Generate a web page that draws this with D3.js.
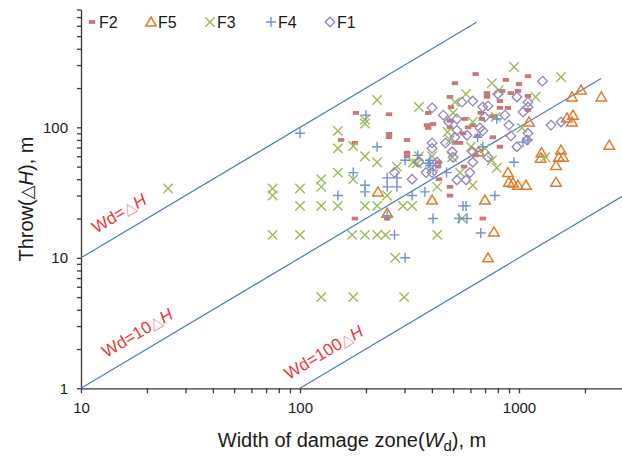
<!DOCTYPE html>
<html>
<head>
<meta charset="utf-8">
<script src="https://cdn.jsdelivr.net/npm/d3@7.9.0/dist/d3.min.js"></script>
<style>
  body { margin: 0; background: #fff; }
  svg { font-family: "Liberation Sans", Arial, sans-serif; }
</style>
</head>
<body>
<svg id="chart" width="622" height="456"></svg>
<script>
// series data: [width of damage zone Wd (m), throw dH (m)]
const f2 = [[634,256],[510,218],[871,231],[1000,215],[1099,247],[714,183],[714,171],[836,190],[918,183],[989,190],
  [1099,174],[484,171],[180,129],[255,126],[385,129],[489,143],[818,159],[890,141],[1099,136],[669,129],[380,104],
  [385,99],[405,106],[484,112],[484,100],[585,100],[676,116],[760,122],[255,89],[255,84],[308,80],[154,80],[178,76],
  [510,76],[818,71],[308,64],[308,60],[427,54],[427,50],[561,50],[431,40],[484,35],[484,30],[555,90],[647,86],
  [615,104],[567,116],[178,20],[250,20],[683,20],[634,61],[538,76],[818,141],[760,84]];
const f5 = [[227,32],[401,27.7],[250,22],[699,27.7],[768,15.8],[722,10],[654,65],[1111,110],[890,45],[899,38],
  [938,37.5],[989,36],[1076,36],[1267,64],[1255,58],[1555,67],[1520,59],[1590,59],[1475,51],[1475,38],[1745,171],
  [1920,193],[2375,171],[1656,118],[1764,124],[1745,110],[2583,73]];
const f3 = [[25,34],[75,34],[75,30],[100,34],[75,15],[100,15],[100,25],[125,40],[125,35],[125,25],[125,5],[149,94],
  [149,69],[149,45],[149,25],[175,72],[175,40],[175,5],[198,60],[198,25],[198,114],[198,107],[225,162],[349,143],
  [225,54],[277,50],[328,54],[349,60],[401,60],[250,30],[225,25],[295,25],[325,25],[423,35],[299,5],[173,15],[198,15],
  [225,15],[246,15],[423,15],[272,10],[549,20],[950,290],[1555,243],[1190,171],[752,218],[573,180],[510,156],[500,129],
  [615,110],[784,120],[809,193],[472,92],[484,80],[603,71],[699,69],[752,56],[792,49],[495,59],[342,53],[538,45],
  [615,36],[1320,59],[1032,99]];
const f4 = [[100,90],[200,124],[175,45],[149,30],[198,36],[198,32],[225,71],[302,56],[270,15],[302,10],[405,20],
  [532,20],[579,20],[555,25],[573,25],[669,15.5],[345,61],[392,56],[392,51],[405,47],[250,41],[250,35],[277,41],
  [277,35],[325,30],[372,32],[250,21],[467,45],[948,54],[776,30],[683,71],[792,116],[647,84],[1043,77],[1099,80],[385,53]];
const f1 = [[1280,226],[401,141],[549,156],[615,159],[683,143],[722,146],[800,180],[978,171],[1099,156],[1099,143],
  [451,124],[521,116],[477,110],[699,120],[862,124],[1043,131],[899,104],[521,95],[579,87],[663,99],[683,94],[462,76],
  [401,76],[401,69],[510,84],[495,65],[500,59],[615,65],[722,59],[918,86],[978,71],[1099,90],[1088,80],[1400,104],
  [1555,110],[615,54],[597,45],[521,39.5],[573,39.5],[423,54],[376,45],[401,45],[349,54],[325,40],[270,45]];

const seriesNames = ['F2', 'F5', 'F3', 'F4', 'F1'];
const seriesData = [f2, f5, f3, f4, f1];

// reference lines Wd = k * dH, drawn between two Wd values
const refK = [1, 10, 100];
const refFrom = [10, 10, 100];
const refTo = [640, 2370, 3000];
const refCoef = ['', '10', '100'];

const xMajor = [10, 100, 1000];
const yMajor = [1, 10, 100];

// ---- styles ----
const markers = {
  F2: { color: '#c9787a' },
  F5: { color: '#e07b2c', path: 'M0,-5L5.3,4L-5.3,4Z', width: 1.5 },
  F3: { color: '#9bbb59', path: 'M-4.7,-4.7L4.7,4.7M-4.7,4.7L4.7,-4.7', width: 1.4 },
  F4: { color: '#6f93cc', path: 'M-5,0H5M0,-5V5', width: 1.4 },
  F1: { color: '#9383b8', path: 'M0,-4.8L4.8,0L0,4.8L-4.8,0Z', width: 1.3 }
};
const axisColor = '#3d3535';
const lineColor = '#4a7ebb';
const labelRed = '#e8383d';

const svg = d3.select('#chart');

const x = d3.scaleLog().domain([10, 3000]).range([81, 623.5]);
const y = d3.scaleLog().domain([1, 800]).range([388.3, 9.5]);

// axes
const xAxis = svg.append('g')
  .attr('transform', `translate(0,${y(1)})`)
  .call(d3.axisBottom(x).tickValues(x.ticks()).tickSize(5).tickSizeOuter(0).tickPadding(9)
    .tickFormat(d => xMajor.includes(d) ? d : ''));
const yAxis = svg.append('g')
  .attr('transform', `translate(${x(10)},0)`)
  .call(d3.axisLeft(y).tickValues(y.ticks()).tickSize(4).tickSizeOuter(0).tickPadding(9)
    .tickFormat(d => yMajor.includes(d) ? d : ''));
[xAxis, yAxis].forEach(g => {
  g.selectAll('path, line').attr('stroke', axisColor).attr('stroke-width', 1.3);
  g.selectAll('text').attr('fill', '#1a1a1a').style('font-size', '15px')
    .style('font-family', '"Liberation Sans", Arial, sans-serif');
});

// reference lines
const angle = Math.atan2(y(10) - y(1), x(100) - x(10)) * 180 / Math.PI;
const labelAt = [16.5, 20, 142];
refK.forEach((k, i) => {
  svg.append('path')
    .attr('d', d3.line()([[x(refFrom[i]), y(refFrom[i] / k)], [x(refTo[i]), y(refTo[i] / k)]]))
    .attr('stroke', lineColor).attr('stroke-width', 1.2).attr('fill', 'none');
  const t = svg.append('text')
    .attr('transform', `translate(${x(labelAt[i])},${y(labelAt[i] / k)}) rotate(${angle})`)
    .attr('y', -13).attr('text-anchor', 'middle')
    .attr('fill', labelRed).style('font-size', '17px');
  t.append('tspan').text('Wd=' + refCoef[i]);
  t.append('tspan').attr('fill', '#f29a9a').style('font-family', '"DejaVu Sans", sans-serif')
    .style('font-size', '16px').text('△');
  t.append('tspan').attr('font-style', 'italic').text('H');
});

// points
function drawMarker(sel, name) {
  const m = markers[name];
  if (name === 'F2') {
    sel.append('rect').attr('x', -3.2).attr('y', -1.9).attr('width', 6.4).attr('height', 3.8).attr('fill', m.color);
  } else {
    sel.append('path').attr('d', m.path).attr('fill', 'none')
      .attr('stroke', m.color).attr('stroke-width', m.width);
  }
}

seriesNames.forEach((name, i) => {
  svg.append('g').selectAll('g')
    .data(seriesData[i])
    .join('g')
    .attr('transform', d => `translate(${x(d[0])},${y(d[1])})`)
    .each(function () { drawMarker(d3.select(this), name); });
});

// legend
const legendX = [92, 151, 210, 271, 330];
seriesNames.forEach((name, i) => {
  const g = svg.append('g').attr('transform', `translate(${legendX[i]},22)`);
  drawMarker(g, name);
  g.append('text').attr('x', 7).attr('y', 5.5).attr('fill', '#1a1a1a')
    .style('font-size', '16px').text(name);
});

// axis titles
const xt = svg.append('text').attr('x', 352).attr('y', 447).attr('text-anchor', 'middle')
  .attr('fill', '#1a1a1a').style('font-size', '20px');
xt.append('tspan').text('Width of damage zone(');
xt.append('tspan').attr('font-style', 'italic').text('W');
xt.append('tspan').attr('dy', 4).style('font-size', '15px').text('d');
xt.append('tspan').attr('dy', -4).text('), m');

const yt = svg.append('text').attr('transform', 'translate(33,199) rotate(-90)').attr('text-anchor', 'middle')
  .attr('fill', '#1a1a1a').style('font-size', '20px');
yt.append('tspan').text('Throw(');
yt.append('tspan').style('font-family', '"DejaVu Sans", sans-serif').style('font-size', '18px').text('△');
yt.append('tspan').attr('font-style', 'italic').text('H');
yt.append('tspan').text('), m');
</script>
</body>
</html>
